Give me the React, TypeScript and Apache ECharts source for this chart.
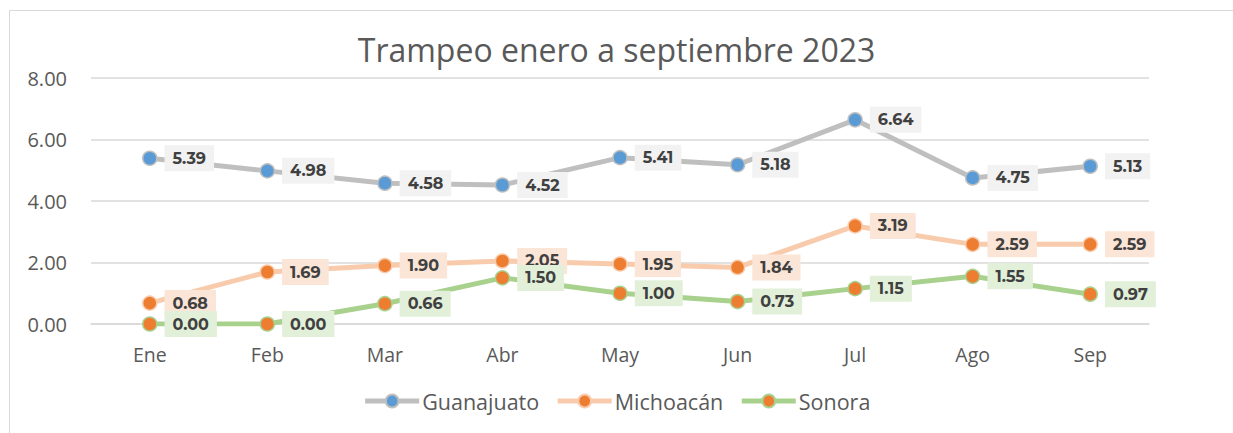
import React, { useEffect, useRef } from "react";
import * as echarts from "echarts";

const months = ["Ene", "Feb", "Mar", "Abr", "May", "Jun", "Jul", "Ago", "Sep"];
const guanajuato = [5.39, 4.98, 4.58, 4.52, 5.41, 5.18, 6.64, 4.75, 5.13];
const michoacan = [0.68, 1.69, 1.9, 2.05, 1.95, 1.84, 3.19, 2.59, 2.59];
const sonora = [0.0, 0.0, 0.66, 1.5, 1.0, 0.73, 1.15, 1.55, 0.97];
const yTicks = { min: 0, max: 8, interval: 2 };

const labelFont = "Montserrat, 'Open Sans', sans-serif";
const textFont = "'Open Sans', sans-serif";

function mkSeries(name: string, data: number[], line: string, marker: string, bg: string) {
  return {
    name,
    type: "line",
    data,
    symbol: "circle",
    symbolSize: 14,
    lineStyle: { color: line, width: 5 },
    itemStyle: { color: marker, borderColor: line, borderWidth: 1.5 },
    label: {
      show: true,
      position: "right",
      distance: 7,
      formatter: (p: any) => Number(p.value).toFixed(2),
      fontFamily: labelFont,
      fontWeight: "bold",
      fontSize: 16,
      color: "#404040",
      backgroundColor: bg,
      padding: [6, 8, 4, 8],
    },
    emphasis: { disabled: true },
  };
}

export default function App() {
  const ref = useRef<HTMLDivElement>(null);
  useEffect(() => {
    if (!ref.current) return;
    const chart = echarts.init(ref.current, undefined, { renderer: "svg" });
    chart.setOption({
      animation: false,
      backgroundColor: "#ffffff",
      title: {
        text: "Trampeo enero a septiembre 2023",
        left: "center",
        top: 28,
        textStyle: { fontFamily: textFont, fontWeight: "normal", fontSize: 32, color: "#595959" },
      },
      graphic: [
        { type: "line", shape: { x1: 9.5, y1: 10.5, x2: 1233, y2: 10.5 }, style: { stroke: "#D9D9D9", lineWidth: 1 } },
        { type: "line", shape: { x1: 9.5, y1: 10.5, x2: 9.5, y2: 433 }, style: { stroke: "#D9D9D9", lineWidth: 1 } },
      ],
      legend: {
        bottom: 16,
        left: "center",
        itemWidth: 54,
        itemHeight: 16,
        itemGap: 16,
        textStyle: { fontFamily: textFont, fontSize: 21.5, color: "#595959", padding: [0, 0, 0, -2] },
        data: [
          { name: "Guanajuato", lineStyle: { width: 5 } },
          { name: "Michoacán", lineStyle: { width: 5 } },
          { name: "Sonora", lineStyle: { width: 5 } },
        ],
      },
      grid: { left: 91, right: 84, top: 78, bottom: 109 },
      xAxis: {
        type: "category",
        data: months,
        boundaryGap: true,
        axisLine: { lineStyle: { color: "#D9D9D9", width: 1.5 } },
        axisTick: { show: false },
        axisLabel: { fontFamily: textFont, fontSize: 19.5, color: "#595959", margin: 20 },
      },
      yAxis: {
        type: "value",
        min: yTicks.min,
        max: yTicks.max,
        interval: yTicks.interval,
        axisLine: { show: false },
        axisTick: { show: false },
        splitLine: { lineStyle: { color: "#D9D9D9", width: 1.5 } },
        axisLabel: {
          fontFamily: textFont,
          fontSize: 20,
          color: "#595959",
          margin: 24,
          formatter: (v: number) => v.toFixed(2),
        },
      },
      series: [
        mkSeries("Guanajuato", guanajuato, "#BFBFBF", "#5B9BD5", "#F2F2F2"),
        mkSeries("Michoacán", michoacan, "#F8CBAD", "#ED7D31", "#FBE5D6"),
        mkSeries("Sonora", sonora, "#A9D18E", "#ED7D31", "#E2F0D9"),
      ],
    });
    return () => chart.dispose();
  }, []);
  return <div ref={ref} style={{ position: "fixed", left: 0, top: 0, width: 1233, height: 433 }} />;
}
